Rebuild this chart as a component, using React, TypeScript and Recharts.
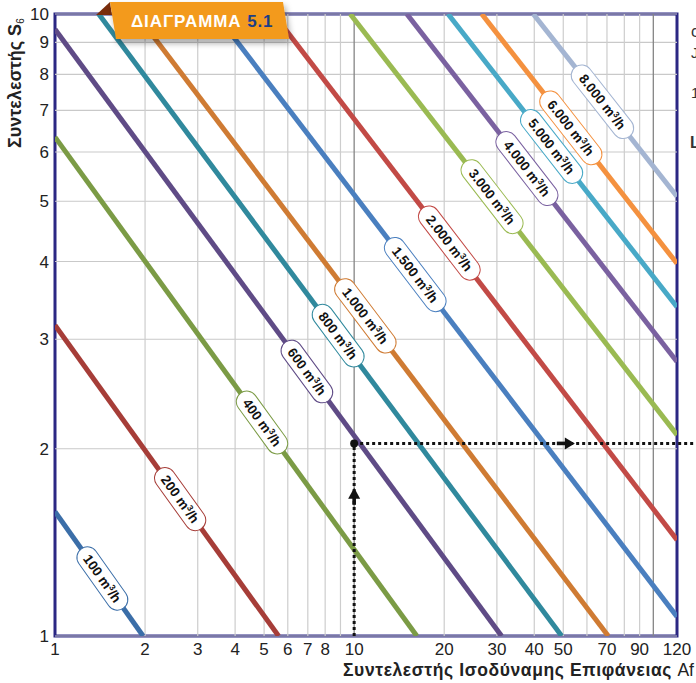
import React from 'react';
import { LineChart, Line, XAxis, YAxis, ReferenceLine, ReferenceDot, ReferenceArea } from 'recharts';

// Flow rates (m³/h) of each line
const FLOWS = ['100', '200', '400', '600', '800', '1.000', '1.500', '2.000', '3.000', '4.000', '5.000', '6.000', '8.000'];
// Where each line enters the plot (Af, S)
const START_AF = [1, 1, 1, 1, 1.40, 1.87, 3.45, 5.38, 9.70, 15.0, 20.6, 26.7, 39.7];
const START_S = [1.585, 3.16, 6.34, 9.45, 10, 10, 10, 10, 10, 10, 10, 10, 10];
// Where each line leaves the plot (Af, S)
const END_AF = [1.97, 5.59, 16.2, 31.1, 49.4, 70.7, 120, 120, 120, 120, 120, 120, 120];
const END_S = [1, 1, 1, 1, 1, 1, 1.074, 1.427, 2.105, 2.76, 3.38, 3.97, 5.09];
// Af at which each line's label sits
const LABEL_AF = [1.44, 2.62, 4.92, 6.95, 8.84, 10.9, 16.0, 20.8, 28.9, 37.8, 45.7, 53.0, 67.6];

const X_TICKS = [1, 2, 3, 4, 5, 6, 7, 8, 10, 20, 30, 40, 50, 70, 90, 120];
const X_GRID_MINOR = [2, 3, 4, 5, 6, 7, 8, 9, 20, 30, 40, 50, 60, 70, 80, 90];
const X_GRID_MAJOR = [10, 100];
const Y_TICKS = [1, 2, 3, 4, 5, 6, 7, 8, 9, 10];

// Worked example (dotted reading path)
const EX_AF = 10;
const EX_S = 2.04;
const EX_ARROW_UP_S = 1.68;
const EX_ARROW_RIGHT_AF = 51;
const EX_LINE_END_AF = 142;

const COLORS = ['#3b6ea8', '#a63d38', '#7b9b45', '#5f4b86', '#30899d', '#cf7b33', '#4a7fbf', '#c24a46', '#9aba52', '#7a61a0', '#48a9c7', '#f4913f', '#a4b5d2'];

const FONT = '"Liberation Sans", Arial, sans-serif';
const FRAME = '#2b2783';
const W = 696;
const H = 683;
const M = { top: 14, right: 19, bottom: 0, left: 0 };
const Y_AXIS_W = 55;
const X_AXIS_H = 47;
const PLOT_W = W - M.right - Y_AXIS_W;
const PLOT_H = H - X_AXIS_H - M.top;
const PX_DEC_X = PLOT_W / Math.log10(120);
const PX_DEC_Y = PLOT_H / 1;

const lines = FLOWS.map((f, i) => {
  const la0 = Math.log10(START_AF[i]);
  const la1 = Math.log10(END_AF[i]);
  const ls0 = Math.log10(START_S[i]);
  const ls1 = Math.log10(END_S[i]);
  const ll = Math.log10(LABEL_AF[i]);
  const labelS = Math.pow(10, ls0 + ((ll - la0) * (ls1 - ls0)) / (la1 - la0));
  const angle = (Math.atan2((ls0 - ls1) * PX_DEC_Y, (la1 - la0) * PX_DEC_X) * 180) / Math.PI;
  return {
    flow: f,
    color: COLORS[i],
    data: [
      { af: START_AF[i], s: START_S[i] },
      { af: END_AF[i], s: END_S[i] },
    ],
    labelAf: LABEL_AF[i],
    labelS,
    angle,
  };
});

function Pill({ cx, cy, angle, flow, color }: any) {
  const w = (flow.length + 5) * 7.6 + 12;
  const h = 21;
  return (
    <g transform={`translate(${cx},${cy}) rotate(${angle})`}>
      <rect x={-w / 2} y={-h / 2} width={w} height={h} rx={h / 2} ry={h / 2} fill="#fff" stroke={color} strokeWidth={1} />
      <text x={0} y={4.8} textAnchor="middle" fontFamily={FONT} fontWeight="bold" fontSize={13.5} fill="#111">
        <tspan>{flow} m</tspan>
        <tspan fontSize={8.5} dy={-5}>3</tspan>
        <tspan dy={5}>/h</tspan>
      </text>
    </g>
  );
}

export default function App() {
  return (
    <div style={{ position: 'absolute', left: 0, top: 0, width: W, height: H, background: '#fff' }}>
      <LineChart width={W} height={H} margin={M}>
        <XAxis
          type="number"
          dataKey="af"
          scale="log"
          domain={[1, 120]}
          ticks={X_TICKS}
          interval={0}
          allowDataOverflow
          tickLine={false}
          axisLine={false}
          height={X_AXIS_H}
          tickMargin={1}
          tick={{ fontSize: 17, fill: '#222', fontFamily: FONT }}
        />
        <YAxis
          type="number"
          dataKey="s"
          scale="log"
          domain={[1, 10]}
          ticks={Y_TICKS}
          interval={0}
          allowDataOverflow
          tickLine={false}
          axisLine={false}
          width={Y_AXIS_W}
          tickMargin={0}
          tick={{ fontSize: 17, fill: '#222', fontFamily: FONT }}
        />
        {Y_TICKS.map((v) => (
          <ReferenceLine key={'hy' + v} y={v} stroke="#c9c9c9" strokeWidth={1.2} />
        ))}
        {X_GRID_MINOR.map((v) => (
          <ReferenceLine key={'vx' + v} x={v} stroke="#cdcdcd" strokeWidth={1.2} />
        ))}
        {X_GRID_MAJOR.map((v) => (
          <ReferenceLine key={'vX' + v} x={v} stroke="#858585" strokeWidth={1.3} />
        ))}
        {lines.map((l) => (
          <Line
            key={l.flow}
            data={l.data}
            dataKey="s"
            type="linear"
            stroke={l.color}
            strokeWidth={5}
            dot={false}
            activeDot={false}
            isAnimationActive={false}
          />
        ))}
        <ReferenceLine
          segment={[{ x: EX_AF, y: 1 }, { x: EX_AF, y: EX_S }]}
          stroke="#111"
          strokeWidth={3}
          strokeDasharray="3 3"
          ifOverflow="visible"
        />
        <ReferenceLine
          segment={[{ x: EX_AF, y: EX_S }, { x: EX_LINE_END_AF, y: EX_S }]}
          stroke="#111"
          strokeWidth={3}
          strokeDasharray="3 3"
          ifOverflow="visible"
        />
        <ReferenceArea x1={1} x2={120} y1={1} y2={10} fill="none" fillOpacity={0} stroke={FRAME} strokeWidth={3} ifOverflow="visible" />
        <ReferenceDot x={EX_AF} y={EX_S} r={4} fill="#111" stroke="none" ifOverflow="visible" />
        <ReferenceDot
          x={EX_AF}
          y={EX_ARROW_UP_S}
          ifOverflow="visible"
          shape={(p: any) => (
            <g>
              <polygon points={`${p.cx},${p.cy - 8} ${p.cx - 6},${p.cy + 3} ${p.cx + 6},${p.cy + 3}`} fill="#111" />
              <rect x={p.cx - 1.8} y={p.cy + 2} width={3.6} height={7} fill="#111" />
            </g>
          )}
        />
        <ReferenceDot
          x={EX_ARROW_RIGHT_AF}
          y={EX_S}
          ifOverflow="visible"
          shape={(p: any) => (
            <g>
              <polygon points={`${p.cx + 9},${p.cy} ${p.cx - 1},${p.cy - 6} ${p.cx - 1},${p.cy + 6}`} fill="#111" />
              <rect x={p.cx - 9} y={p.cy - 1.8} width={9} height={3.6} fill="#111" />
            </g>
          )}
        />
        {lines.map((l) => (
          <ReferenceDot
            key={'lab' + l.flow}
            x={l.labelAf}
            y={l.labelS}
            ifOverflow="visible"
            shape={(p: any) => <Pill cx={p.cx} cy={p.cy} angle={l.angle} flow={l.flow} color={l.color} />}
          />
        ))}
      </LineChart>
      <svg width={W} height={H} style={{ position: 'absolute', left: 0, top: 0, pointerEvents: 'none' }}>
        <defs>
          <filter id="badgeShadow" x="-10%" y="-30%" width="125%" height="180%">
            <feDropShadow dx="2" dy="4" stdDeviation="3" floodColor="#000" floodOpacity="0.35" />
          </filter>
        </defs>
        <polygon points="96,15 110,2 112,15" fill="#7a2d0c" />
        <polygon points="110,2 283,2 289,39 116,39" fill="#f39a1f" filter="url(#badgeShadow)" />
        <text x={131} y={27} fontSize={17} fontWeight="bold" fill="#fff" fontFamily={FONT} letterSpacing={0.9}>
          ΔΙΑΓΡΑΜΜΑ <tspan fill="#1c3f87">5.1</tspan>
        </text>
        <text
          x={21}
          y={148}
          transform="rotate(-90 21 148)"
          fontSize={18}
          fontWeight="bold"
          fill="#222"
          fontFamily={FONT}
        >
          Συντελεστής S<tspan fontSize={10} fontWeight="normal" dy={3}>6</tspan>
        </text>
        <text x={343} y={676} fontSize={17.5} fontWeight="bold" fill="#222" fontFamily={FONT} letterSpacing={0.6}>
          Συντελεστής Ισοδύναμης Επιφάνειας <tspan fontWeight="normal" letterSpacing={0}>Af</tspan>
        </text>
        <text x={691} y={37} fontSize={16} fill="#333" fontFamily={FONT}>c</text>
        <text x={691} y={58} fontSize={15} fill="#333" fontFamily={FONT}>J</text>
        <text x={691} y={98} fontSize={15} fill="#333" fontFamily={FONT}>1</text>
        <text x={690} y={148} fontSize={16} fontWeight="bold" fill="#333" fontFamily={FONT}>L</text>
      </svg>
    </div>
  );
}
